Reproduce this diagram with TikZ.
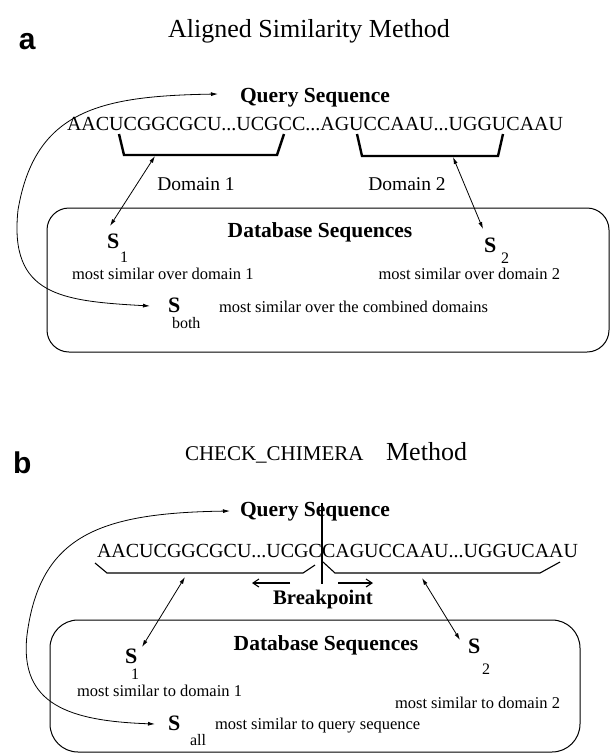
\documentclass[tikz,border=0pt]{standalone}
\usepackage{fontspec}
\setmainfont{Liberation Serif}
\newfontfamily\labfont{Liberation Sans}
\usetikzlibrary{arrows.meta}
\newcommand\fsz[1]{\fontsize{#1}{#1}\selectfont}
\begin{document}
\begin{tikzpicture}[x=1pt,y=-1pt,
  txt/.style={inner sep=0pt, outer sep=0pt},
  lnk/.style={line width=0.8pt, {Latex[length=7pt,width=4pt]}-{Latex[length=7pt,width=4pt]}},
  thickbrk/.style={line width=2.4pt, line join=miter},
  thinbrk/.style={line width=1.1pt},
  dbbox/.style={draw, line width=1pt, inner sep=0pt},
  bparrow/.style={line width=1.1pt, -{Straight Barb[length=6pt,width=8pt]}},
  plab/.style={txt, anchor=base west, font=\labfont\bfseries\fsz{30}},
  ttl/.style={txt, font=\fsz{26}},
  qlab/.style={txt, anchor=base west, font=\bfseries\fsz{21.5}},
  seq/.style={txt, anchor=base west, font=\fsz{20}},
  dom/.style={txt, anchor=base, font=\fsz{19.5}},
  dblab/.style={txt, anchor=base, font=\bfseries\fsz{21.5}},
  sbig/.style={txt, anchor=base west, font=\bfseries\fsz{22}},
  ssub/.style={txt, anchor=base west, font=\fsz{16}},
  note/.style={txt, font=\fsz{16.5}}]
\useasboundingbox (0,0) rectangle (615,755);

% ---------------- Panel a ----------------
\node[plab] (la) at (19,49) {a};
\node[ttl, anchor=base] (ta) at (309,37) {Aligned Similarity Method};
\node[qlab] (qa) at (240,102) {Query Sequence};
\node[seq] (sa) at (67,130) {AACUCGGCGCU...UCGCC...AGUCCAAU...UGGUCAAU};

\draw[thickbrk] (119,134) -- (124,155) -- (277,155) -- (284,134);
\draw[thickbrk] (357,134) -- (362,156) -- (498,156) -- (503,134);

\node[dom] (da1) at (196,190) {Domain 1};
\node[dom] (da2) at (407,190) {Domain 2};

\node[dbbox, rounded corners=22pt, minimum width=562pt, minimum height=144pt] (boxa) at (328,280) {};
\node[dblab] (dba) at (320,237) {Database Sequences};

\node[sbig] (s1a) at (107,248) {S};
\node[ssub] (n1a) at (120,262) {1};
\node[note, anchor=base west] (m1a) at (72,279) {most similar over domain 1};

\node[sbig] (s2a) at (484,252) {S};
\node[ssub] (n2a) at (501,263) {2};
\node[note, anchor=base east] (m2a) at (560,279) {most similar over domain 2};

\node[sbig] (sba) at (168,312) {S};
\node[ssub] (nba) at (172,328) {both};
\node[note, anchor=base west] (mba) at (219,312) {most similar over the combined domains};

\coordinate (d1a) at (155,156);
\coordinate (e1a) at (110,226);
\coordinate (d2a) at (453,157);
\coordinate (e2a) at (483,229);
\draw[lnk] (d1a) -- (e1a);
\draw[lnk] (d2a) -- (e2a);

\coordinate (qta) at (218,94);
\coordinate (bta) at (150,306);
\draw[line width=0.8pt, {Latex[length=7pt,width=4pt]}-{Latex[length=7pt,width=4pt]}]
  (qta) .. controls (100,96) and (35,110) .. (18,210)
        .. controls (9,295) and (60,301) .. (bta);

% ---------------- Panel b ----------------
\node[plab] (lb) at (13,473) {b};
\node[txt, anchor=base west, font=\fsz{21}] (tb1) at (185,460) {CHECK\_CHIMERA};
\node[ttl, anchor=base east] (tb2) at (467,460) {Method};
\node[qlab] (qb) at (240,516) {Query Sequence};
\node[seq] (sb) at (97,557) {AACUCGGCGCU...UCGCCAGUCCAAU...UGGUCAAU};

\coordinate (bpt) at (322,503);
\coordinate (bpb) at (322,584);
\draw[line width=1.3pt] (bpt) -- (bpb);

\draw[thinbrk] (95,563) -- (107,573) -- (303,573) -- (315,565);
\draw[thinbrk] (323,562) -- (335,573) -- (540,573) -- (560,562);

\coordinate (lal) at (252,583);
\coordinate (lar) at (290,583);
\coordinate (ral) at (338,583);
\coordinate (rar) at (373,583);
\draw[bparrow] (lar) -- (lal);
\draw[bparrow] (ral) -- (rar);
\node[txt, anchor=base, font=\bfseries\fsz{20.7}] (bpl) at (323,604) {Breakpoint};

\node[dbbox, rounded corners=28pt, minimum width=530pt, minimum height=132pt] (boxb) at (315,686) {};
\node[dblab] (dbb) at (326,650) {Database Sequences};

\node[sbig] (s1b) at (125,663) {S};
\node[ssub] (n1b) at (131,679) {1};
\node[note, anchor=base west] (m1b) at (77,696) {most similar to domain 1};

\node[sbig] (s2b) at (468,653) {S};
\node[ssub] (n2b) at (482,674) {2};
\node[note, anchor=base east] (m2b) at (560,708) {most similar to domain 2};

\node[sbig] (sab) at (168,730) {S};
\node[ssub] (nab) at (190,745) {all};
\node[note, anchor=base west] (mab) at (215,729) {most similar to query sequence};

\coordinate (d1b) at (185,577);
\coordinate (e1b) at (142,647);
\coordinate (d2b) at (422,578);
\coordinate (e2b) at (460,640);
\draw[lnk] (d1b) -- (e1b);
\draw[lnk] (d2b) -- (e2b);

\coordinate (qtb) at (230,511);
\coordinate (btb) at (155,724);
\draw[line width=0.8pt, {Latex[length=7pt,width=4pt]}-{Latex[length=7pt,width=4pt]}]
  (qtb) .. controls (100,513) and (40,535) .. (27,635)
        .. controls (19,705) and (70,721) .. (btb);
\end{tikzpicture}
\end{document}
